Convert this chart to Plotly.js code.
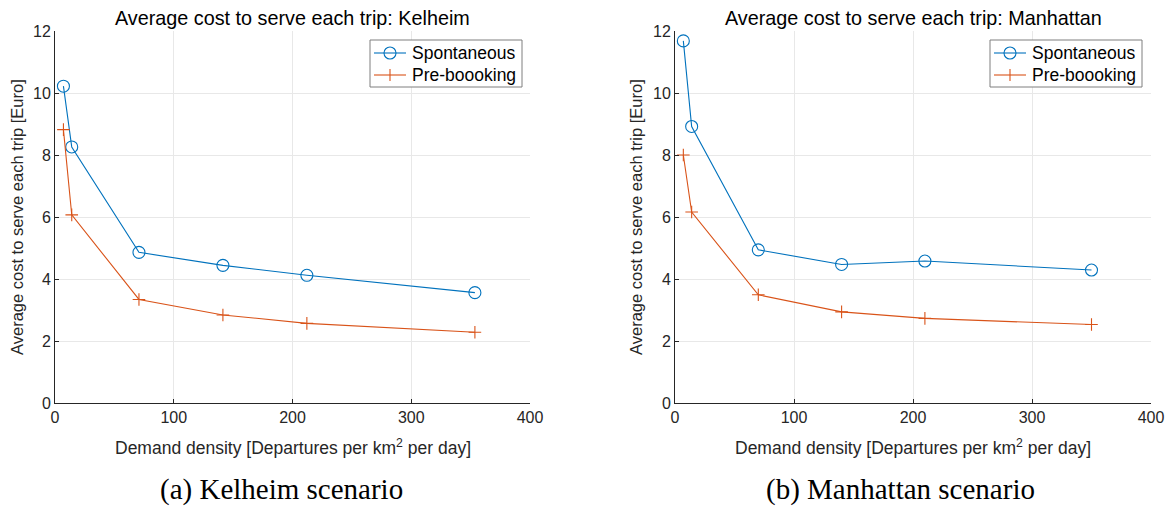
<!DOCTYPE html>
<html><head><meta charset="utf-8">
<script src="https://cdn.plot.ly/plotly-3.0.1.min.js"></script>
<style>html,body{margin:0;padding:0;background:#fff;}#chart{width:1168px;height:506px;}</style>
</head><body><div id="chart"></div>
<script>
// Kelheim
const kelheimDensity = [7.1, 14.1, 70.7, 141.4, 212.1, 353.6];
const kelheimSpontaneous = [10.22, 8.26, 4.86, 4.44, 4.12, 3.56];
const kelheimPrebooking = [8.82, 6.07, 3.34, 2.84, 2.57, 2.28];
// Manhattan
const manhattanDensity = [7, 14, 70, 140, 210, 350];
const manhattanSpontaneous = [11.68, 8.92, 4.94, 4.47, 4.58, 4.29];
const manhattanPrebooking = [8.0, 6.16, 3.49, 2.94, 2.73, 2.53];

const seriesNames = ['Spontaneous', 'Pre-boooking'];
const panelTitles = ['Average cost to serve each trip: Kelheim', 'Average cost to serve each trip: Manhattan'];
const captions = ['(a) Kelheim scenario', '(b) Manhattan scenario'];
const xTitle = 'Demand density [Departures per km<sup>2</sup> per day]';
const yTitle = 'Average cost to serve each trip [Euro]';

const W = 1168, H = 506;
const px = x => x / W, py = y => 1 - y / H;
const BLUE = '#0072BD', ORANGE = '#D95319';
const FONT = 'Liberation Sans, Arial, Helvetica, sans-serif';
const CIRC = 12, PLUS = 9;

function trSpont(x, y, xa, ya) {
  return {x, y, xaxis: xa, yaxis: ya, name: seriesNames[0], type: 'scatter', mode: 'lines+markers', showlegend: false,
    line: {color: BLUE, width: 1.1}, marker: {symbol: 'circle-open', size: CIRC, color: BLUE, line: {width: 1.1, color: BLUE}}};
}
function trPre(x, y, xa, ya) {
  return {x, y, xaxis: xa, yaxis: ya, name: seriesNames[1], type: 'scatter', mode: 'lines+markers', showlegend: false,
    line: {color: ORANGE, width: 1.1}, marker: {symbol: 'cross-thin-open', size: PLUS, color: ORANGE, line: {width: 1.1, color: ORANGE}}};
}

const data = [
  trSpont(kelheimDensity, kelheimSpontaneous, 'x', 'y'),
  trPre(kelheimDensity, kelheimPrebooking, 'x', 'y'),
  trSpont(manhattanDensity, manhattanSpontaneous, 'x2', 'y2'),
  trPre(manhattanDensity, manhattanPrebooking, 'x2', 'y2'),
];

function xax(d, anchor) {
  return {domain: d, anchor, range: [0, 400], dtick: 100, tick0: 0, showgrid: true, gridcolor: '#e8e8e8', gridwidth: 1,
    zeroline: false, showline: true, linecolor: '#262626', linewidth: 1, ticks: 'inside', ticklen: 4, tickcolor: '#262626',
    tickfont: {family: FONT, size: 16, color: '#262626'}, mirror: false, fixedrange: true};
}
function yax(d, anchor) {
  return {domain: d, anchor, range: [0, 12], dtick: 2, tick0: 0, showgrid: true, gridcolor: '#e8e8e8', gridwidth: 1,
    zeroline: false, showline: true, linecolor: '#262626', linewidth: 1, ticks: 'inside', ticklen: 4, tickcolor: '#262626',
    tickfont: {family: FONT, size: 16, color: '#262626'}, fixedrange: true};
}
const yd = [py(403), py(31)];
const panels = [{l: 55, r: 530, yl: 17, legR: 522, capX: 281}, {l: 675, r: 1151, yl: 636, legR: 1142, capX: 900}];

const annotations = [];
const shapes = [];
panels.forEach((p, i) => {
  const cx = (p.l + p.r) / 2;
  annotations.push({text: panelTitles[i], x: px(cx), y: py(18), xref: 'paper', yref: 'paper', showarrow: false,
    xanchor: 'center', yanchor: 'middle', font: {family: FONT, size: 19.8, color: '#000'}});
  annotations.push({text: xTitle, x: px(cx), y: py(447), xref: 'paper', yref: 'paper', showarrow: false,
    xanchor: 'center', yanchor: 'middle', font: {family: FONT, size: 17.5, color: '#262626'}});
  annotations.push({text: yTitle, x: px(p.yl), y: py(217), xref: 'paper', yref: 'paper', showarrow: false, textangle: -90,
    xanchor: 'center', yanchor: 'middle', font: {family: FONT, size: 16.5, color: '#262626'}});
  annotations.push({text: captions[i], x: px(p.capX), y: py(489), xref: 'paper', yref: 'paper', showarrow: false,
    xanchor: 'center', yanchor: 'middle', font: {family: 'Liberation Serif, Times New Roman, serif', size: 29, color: '#000'}});

  // legend box (drawn manually to match the reference geometry)
  const L = p.legR - 152, R = p.legR, T = 40, B = 87;
  shapes.push({type: 'rect', xref: 'paper', yref: 'paper', x0: px(L), x1: px(R), y0: py(B), y1: py(T),
    line: {color: '#7f7f7f', width: 1}, fillcolor: '#fff', layer: 'above'});
  const rows = [53, 75];
  const cols = [BLUE, ORANGE];
  rows.forEach((ry, k) => {
    shapes.push({type: 'line', xref: 'paper', yref: 'paper', x0: px(L + 4), x1: px(L + 36), y0: py(ry), y1: py(ry),
      line: {color: cols[k], width: 1.1}, layer: 'above'});
    const mx = L + 20;
    if (k === 0) {
      shapes.push({type: 'circle', xref: 'paper', yref: 'paper', x0: px(mx - CIRC / 2), x1: px(mx + CIRC / 2),
        y0: py(ry + CIRC / 2), y1: py(ry - CIRC / 2), line: {color: cols[k], width: 1.1}, layer: 'above'});
    } else {
      shapes.push({type: 'line', xref: 'paper', yref: 'paper', x0: px(mx), x1: px(mx), y0: py(ry + 6), y1: py(ry - 6),
        line: {color: cols[k], width: 1.1}, layer: 'above'});
    }
    annotations.push({text: seriesNames[k], x: px(L + 40), y: py(ry), xref: 'paper', yref: 'paper', showarrow: false,
      xanchor: 'left', yanchor: 'middle', font: {family: FONT, size: 17.5, color: '#000'}});
  });
});

const layout = {
  width: W, height: H, margin: {l: 0, r: 0, t: 0, b: 0}, paper_bgcolor: '#fff', plot_bgcolor: '#fff',
  showlegend: false,
  xaxis: xax([px(55), px(530)], 'y'), yaxis: yax(yd, 'x'),
  xaxis2: xax([px(675), px(1151)], 'y2'), yaxis2: yax(yd, 'x2'),
  annotations, shapes
};
Plotly.newPlot('chart', data, layout, {displayModeBar: false, staticPlot: true});
</script></body></html>
